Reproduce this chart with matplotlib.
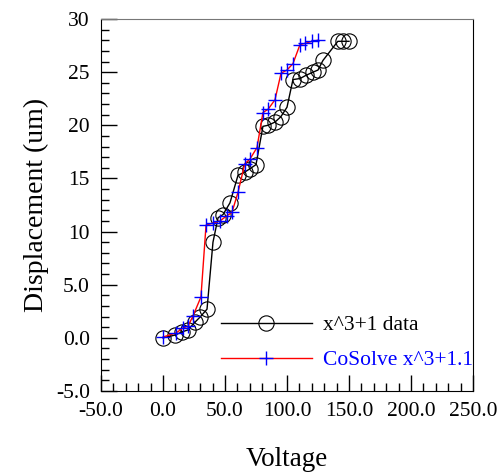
import matplotlib
matplotlib.use("Agg")
import matplotlib.pyplot as plt
from matplotlib.ticker import MultipleLocator

plt.rcParams['font.family'] = ['Liberation Serif', 'DejaVu Serif']

# measured data (x^3+1)
data_x = [0, 10, 15, 20, 26, 30, 35.5, 40.3, 44.4, 48.4, 54, 60.5, 66, 70, 75,
          80.6, 84.7, 90.3, 95, 100, 104.8, 110.5, 115.3, 121, 125, 129,
          141, 145, 150]
data_y = [0.0, 0.27, 0.55, 0.74, 1.5, 1.97, 2.7, 9.0, 11.3, 11.6, 12.7, 15.3,
          15.6, 15.9, 16.3, 19.9, 20.0, 20.3, 20.8, 21.7, 24.3, 24.4, 24.7,
          25.0, 25.2, 26.1, 27.9, 27.9, 27.9]

# CoSolve result
cs_x = [0, 10.5, 16.1, 20.2, 24.2, 30.6, 34.7, 40.3, 46, 51.6, 55.6, 60.5,
        66, 70, 75.8, 80.6, 84.7, 90.3, 95.2, 100, 104.8, 110.5, 114.5, 120, 125]
cs_y = [0.08, 0.46, 0.93, 1.1, 2.06, 3.85, 10.6, 10.8, 11.0, 11.5, 11.8, 13.7,
        16.4, 16.8, 17.9, 21.2, 21.5, 22.4, 24.9, 25.2, 25.8, 27.6, 27.7, 27.9, 28.0]

xticks = [-50, 0, 50, 100, 150, 200, 250]
xticklabels = ["-50.0", "0.0", "50.0", "100.0", "150.0", "200.0", "250.0"]
yticks = [-5, 0, 5, 10, 15, 20, 25, 30]
yticklabels = ["-5.0", "0.0", "5.0", "10", "15", "20", "25", "30"]

fig = plt.figure(figsize=(5.04, 4.72), dpi=100)
ax = fig.add_axes([101 / 504, 1 - 391 / 472, 372 / 504, 372 / 472])

ax.plot(data_x, data_y, color="black", lw=1, marker="o", ms=11,
        mfc="none", mec="black", mew=0.8, label="x^3+1 data")
ax.plot(cs_x, cs_y, color="red", lw=1, marker="+", ms=10,
        mec="blue", mew=1, label="CoSolve x^3+1.1")

ax.set_xlim(-50, 250)
ax.set_ylim(-5, 30)
ax.set_xticks(xticks)
ax.set_xticklabels(xticklabels)
ax.set_yticks(yticks)
ax.set_yticklabels(yticklabels)
ax.xaxis.set_minor_locator(MultipleLocator(10))
ax.yaxis.set_minor_locator(MultipleLocator(1))
ax.tick_params(which="both", direction="in", top=False, right=False,
               labelsize=15.5, pad=8)
ax.tick_params(which="major", length=11.5, width=1)
ax.tick_params(which="minor", length=5.8, width=1)
ax.spines["top"].set_color("#777777")

ax.set_xlabel("Voltage", fontsize=19.5, labelpad=19)
ax.set_ylabel("Displacement (um)", fontsize=20, labelpad=5)

leg = ax.legend(loc="upper left", bbox_to_anchor=(0.323, 0.204), frameon=False,
                fontsize=15.5, handlelength=4.2, handletextpad=0.55,
                labelspacing=0.69, borderpad=0, borderaxespad=0)
leg.get_texts()[1].set_color("blue")

fig.savefig("out.png", dpi=100)
